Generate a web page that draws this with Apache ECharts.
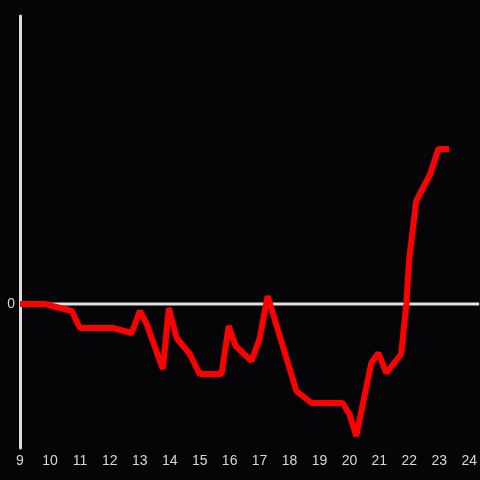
<!DOCTYPE html>
<html>
<head>
<meta charset="utf-8">
<script src="https://cdn.jsdelivr.net/npm/echarts@6/dist/echarts.min.js"></script>
<style>
  html, body { margin: 0; padding: 0; background: #050507; }
  #chart { width: 480px; height: 480px; }
</style>
</head>
<body>
<div id="chart"></div>
<script>
// hours of the day (x) and change values (y)
const hours = [9.0, 9.83, 10.73, 11.0, 12.1, 12.73, 13.0, 13.23, 13.77, 13.97,
  14.23, 14.67, 15.0, 15.73, 15.97, 16.2, 16.73, 17.0, 17.27, 18.23,
  18.73, 19.77, 20.0, 20.23, 20.73, 20.97, 21.23, 21.73, 21.9, 22.0,
  22.23, 22.7, 22.97, 23.33]
const values = [0, 0, -0.07, -0.24, -0.24, -0.29, -0.07, -0.2, -0.65, -0.04,
  -0.34, -0.5, -0.7, -0.7, -0.22, -0.42, -0.57, -0.35, 0.08, -0.87,
  -0.99, -0.99, -1.1, -1.32, -0.59, -0.49, -0.69, -0.5, 0, 0.46,
  1.03, 1.3, 1.55, 1.55]
const xTicks = [9, 10, 11, 12, 13, 14, 15, 16, 17, 18, 19, 20, 21, 22, 23, 24]
const yLabels = [0]

const xMin = 9
const xMax = 24 + 1 / 3
const lineData = hours.map((h, i) => [h, values[i]])

const chart = echarts.init(document.getElementById('chart'))
const option = {
  backgroundColor: '#050507',
  animation: false,
  grid: { left: 20, right: 0, top: 16, bottom: 32 },
  xAxis: {
    type: 'value',
    min: xMin,
    max: xMax,
    interval: 1,
    axisLine: { show: false },
    axisTick: { show: false },
    splitLine: { show: false },
    axisLabel: {
      color: '#d8d8d8',
      fontSize: 14,
      fontFamily: 'Liberation Sans',
      margin: 6,
      showMaxLabel: false,
      formatter: (v) => xTicks.includes(v) ? String(v) : ''
    }
  },
  yAxis: {
    type: 'value',
    min: -1.44,
    max: 2.88,
    axisLine: { show: true, onZero: false, lineStyle: { color: '#dcdcdc', width: 3 } },
    axisTick: { show: false },
    splitLine: { show: false },
    axisLabel: {
      color: '#d8d8d8',
      fontSize: 14,
      fontFamily: 'Liberation Sans',
      margin: 5,
      padding: [3, 0, 0, 0],
      showMinLabel: false,
      showMaxLabel: false,
      formatter: (v) => yLabels.includes(v) ? String(v) : ''
    }
  },
  series: [
    {
      type: 'line',
      data: [[xMin, 0], [xMax, 0]],
      symbol: 'none',
      silent: true,
      z: 1,
      lineStyle: { color: '#e0e0e0', width: 3 }
    },
    {
      type: 'line',
      data: lineData,
      symbol: 'none',
      z: 3,
      lineStyle: { color: '#ff0000', width: 6 }
    }
  ]
}
chart.setOption(option)
</script>
</body>
</html>
